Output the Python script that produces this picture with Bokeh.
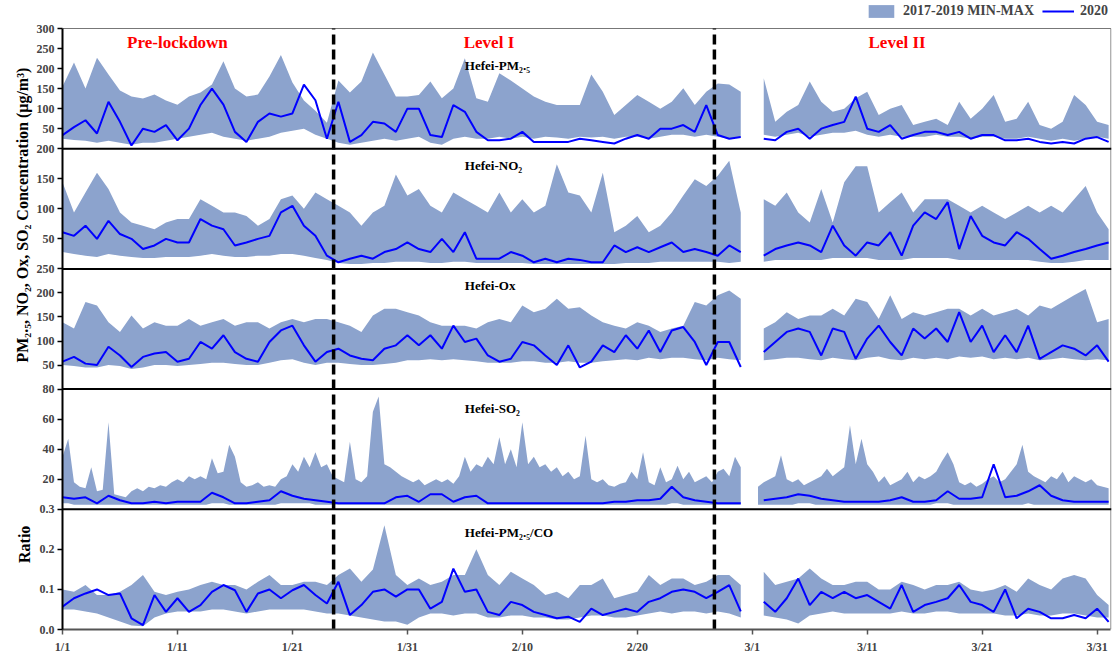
import numpy as np
import pandas as pd
from bokeh.plotting import figure
from bokeh.layouts import row
from bokeh.models import Range1d, FixedTicker, Span, Label, Legend, LegendItem
from bokeh.embed import file_html
from bokeh.resources import INLINE

# ---------------- data ----------------
# daily samples (day 0 = 2020-01-01 00:00); None = missing hours around 29 Feb / 1 Mar
days = np.arange(92)
# half-day samples used for the spiky SO2 envelope
half_days = np.arange(183) / 2

pm25_2020 = [34, 54, 71, 38, 117, 67, 8, 50, 42, 59,
             21, 50, 109, 150, 110, 42, 17, 67, 88, 80,
             88, 160, 121, 25, 117, 17, 34, 67, 63, 42,
             100, 100, 34, 29, 109, 92, 42, 21, 21, 25,
             42, 17, 17, 17, 17, 25, 21, 17, 13, 25,
             34, 25, 50, 50, 59, 42, 109, 34, 25, 29,
             None, 25, 21, 42, 50, 25, 50, 59, 67, 130,
             50, 42, 59, 25, 34, 42, 42, 34, 42, 25,
             34, 34, 21, 21, 25, 17, 13, 17, 13, 25,
             29, 17]
pm25_max = [155, 215, 150, 227, 185, 145, 130, 125, 135, 120,
            110, 130, 140, 160, 218, 150, 130, 135, 180, 234,
            165, 120, 95, 65, 170, 140, 168, 240, 185, 130,
            130, 134, 168, 126, 150, 226, 126, 117, 188, 170,
            150, 130, 117, 109, 109, 109, 185, 142, 84, 109,
            134, 117, 100, 117, 151, 109, 142, 163, 160, 142,
            None, 176, 67, 92, 109, 168, 117, 92, 100, 126,
            142, 84, 100, 109, 59, 67, 75, 59, 117, 75,
            100, 134, 67, 75, 117, 59, 50, 67, 134, 109,
            67, 59]
pm25_min = [25, 22, 20, 15, 20, 15, 10, 15, 15, 20,
            25, 30, 35, 40, 30, 25, 20, 25, 30, 40,
            45, 50, 35, 25, 15, 10, 15, 20, 25, 20,
            25, 30, 15, 10, 25, 30, 25, 25, 30, 25,
            30, 25, 30, 28, 25, 30, 28, 30, 25, 30,
            30, 25, 30, 35, 35, 30, 35, 30, 25, 30,
            None, 35, 30, 35, 40, 30, 35, 40, 40, 45,
            35, 30, 35, 30, 30, 30, 35, 30, 30, 25,
            30, 30, 25, 25, 30, 25, 20, 25, 20, 25,
            30, 25]

no2_2020 = [61, 55, 72, 50, 80, 58, 50, 33, 39, 50,
            44, 44, 83, 72, 66, 39, 44, 50, 55, 94,
            105, 72, 55, 22, 11, 17, 22, 17, 28, 33,
            44, 33, 28, 50, 28, 61, 17, 17, 17, 28,
            22, 11, 17, 11, 17, 15, 11, 11, 39, 28,
            36, 28, 36, 44, 28, 33, 28, 22, 39, 28,
            None, 22, 33, 39, 44, 39, 28, 72, 39, 22,
            44, 39, 61, 22, 72, 94, 83, 111, 33, 88,
            55, 44, 39, 61, 50, 33, 17, 22, 28, 33,
            39, 44]
no2_max = [144, 94, 127, 160, 133, 94, 77, 72, 66, 77,
           83, 83, 116, 105, 94, 94, 88, 72, 83, 116,
           122, 100, 127, 116, 105, 94, 72, 94, 105, 157,
           122, 133, 105, 94, 127, 116, 105, 94, 127, 94,
           116, 94, 105, 174, 127, 122, 94, 160, 61, 72,
           88, 61, 72, 94, 122, 149, 138, 155, 180, 94,
           None, 116, 105, 127, 94, 77, 133, 77, 144, 171,
           171, 94, 111, 127, 94, 116, 116, 116, 105, 94,
           105, 94, 83, 94, 105, 94, 105, 94, 116, 138,
           94, 66]
no2_min = [28, 25, 22, 20, 25, 22, 20, 18, 18, 20,
           20, 20, 22, 25, 22, 20, 20, 22, 22, 25,
           25, 22, 18, 15, 10, 8, 8, 10, 10, 12,
           12, 12, 10, 10, 12, 12, 10, 10, 10, 10,
           10, 8, 8, 8, 8, 8, 8, 8, 8, 10,
           10, 10, 12, 12, 12, 12, 12, 12, 10, 12,
           None, 12, 15, 15, 15, 15, 15, 18, 18, 18,
           18, 15, 15, 15, 18, 18, 18, 18, 15, 15,
           15, 15, 15, 15, 15, 12, 10, 10, 12, 15,
           15, 15]

ox_2020 = [57, 67, 53, 50, 88, 70, 46, 67, 74, 77,
           57, 63, 98, 84, 112, 77, 63, 57, 98, 122,
           132, 91, 57, 77, 84, 70, 63, 60, 84, 91,
           112, 91, 112, 84, 132, 98, 105, 70, 57, 63,
           98, 91, 70, 50, 91, 45, 57, 91, 77, 112,
           84, 122, 77, 122, 129, 98, 50, 98, 98, 46,
           None, 77, 98, 119, 126, 119, 70, 126, 119, 63,
           105, 132, 98, 70, 126, 105, 126, 98, 160, 98,
           132, 77, 112, 77, 132, 63, 77, 91, 84, 70,
           91, 57]
ox_max = [139, 126, 181, 174, 139, 119, 153, 126, 139, 132,
          132, 146, 132, 139, 146, 132, 139, 139, 126, 139,
          146, 139, 146, 146, 139, 132, 119, 153, 167, 167,
          160, 153, 139, 132, 132, 132, 126, 139, 146, 139,
          174, 160, 167, 188, 167, 170, 153, 139, 132, 126,
          139, 132, 119, 126, 132, 181, 174, 195, 205, 188,
          None, 126, 139, 160, 146, 153, 153, 167, 153, 188,
          181, 146, 195, 146, 160, 153, 160, 167, 167, 153,
          167, 153, 160, 167, 153, 174, 167, 181, 195, 208,
          139, 146]
ox_min = [50, 48, 45, 45, 50, 48, 42, 45, 50, 50,
          48, 50, 52, 55, 55, 52, 50, 50, 55, 60,
          62, 55, 50, 55, 55, 52, 50, 50, 52, 55,
          60, 60, 62, 60, 62, 60, 58, 55, 55, 55,
          58, 58, 55, 55, 58, 55, 55, 58, 60, 62,
          60, 65, 62, 65, 65, 62, 60, 65, 62, 60,
          None, 60, 62, 65, 65, 62, 60, 65, 62, 60,
          65, 68, 62, 60, 65, 62, 65, 62, 68, 65,
          68, 62, 65, 62, 65, 60, 62, 65, 62, 60,
          62, 60]

so2_2020 = [8, 7, 8, 4, 9, 6, 4, 4, 5, 4,
            5, 5, 5, 11, 8, 4, 4, 5, 6, 12,
            9, 7, 6, 5, 4, 4, 4, 4, 4, 8,
            9, 5, 10, 10, 5, 8, 9, 4, 4, 4,
            4, 4, 4, 4, 4, 4, 4, 4, 5, 5,
            6, 6, 7, 15, 8, 6, 5, 4, 4, 4,
            None, 6, 7, 8, 10, 9, 7, 6, 5, 5,
            5, 5, 6, 8, 5, 5, 6, 12, 7, 7,
            8, 30, 8, 9, 12, 16, 9, 6, 5, 5,
            5, 5]
# SO2 envelope at half-day resolution
so2_max = [35, 47, 18, 15, 14, 28, 12, 13, 58, 10,
           9, 8, 12, 14, 12, 15, 14, 16, 15, 18,
           20, 18, 22, 20, 22, 20, 34, 24, 25, 43,
           35, 18, 15, 16, 18, 15, 16, 15, 20, 22,
           30, 25, 35, 28, 38, 28, 30, 22, 20, 18,
           45, 20, 18, 22, 65, 75, 30, 28, 25, 22,
           20, 18, 20, 16, 18, 20, 18, 20, 17, 22,
           35, 25, 30, 28, 35, 30, 48, 30, 40, 28,
           58, 30, 35, 28, 30, 25, 28, 22, 25, 20,
           22, 49, 20, 18, 20, 16, 15, 17, 18, 25,
           20, 38, 18, 16, 28, 18, 20, 29, 20, 25,
           18, 20, 22, 18, 25, 27, 22, 35, 28, None,
           None, 15, 18, 20, 22, 36, 20, 18, 20, 16,
           18, 20, 22, 27, 22, 25, 28, 56, 30, 47,
           30, 25, 18, 22, 16, 18, 20, 25, 18, 22,
           20, 22, 25, 32, 38, 30, 18, 16, 18, 15,
           17, 20, 22, 18, 20, 25, 30, 43, 25, 22,
           20, 18, 22, 20, 25, 18, 22, 20, 18, 20,
           16, 15, 14]
so2_min = [4, 4, 3, 3, 3, 3, 3, 3, 3, 3,
           3, 3, 3, 3, 3, 3, 3, 3, 3, 3,
           3, 3, 3, 3, 3, 3, 4, 4, 4, 3,
           3, 3, 3, 3, 3, 3, 3, 3, 4, 4,
           4, 4, 4, 4, 3, 3, 3, 3, 3, 3,
           3, 3, 3, 3, 3, 3, 3, 3, 3, 3,
           3, 3, 3, 3, 3, 3, 3, 3, 3, 3,
           3, 3, 3, 3, 3, 3, 3, 3, 3, 3,
           3, 3, 3, 3, 3, 3, 3, 3, 3, 3,
           3, 3, 3, 3, 3, 3, 3, 3, 3, 3,
           3, 3, 3, 3, 3, 3, 4, 4, 3, 3,
           3, 3, 3, 3, 3, 3, 3, 3, 3, None,
           None, 3, 3, 3, 3, 3, 3, 3, 4, 4,
           4, 3, 3, 3, 3, 3, 3, 3, 3, 3,
           3, 3, 3, 3, 3, 3, 3, 3, 3, 3,
           3, 3, 4, 4, 4, 3, 3, 3, 3, 3,
           3, 3, 3, 3, 3, 3, 3, 3, 4, 3,
           3, 3, 3, 3, 3, 3, 3, 3, 3, 3,
           3, 3, 3]

ratio_2020 = [.057, .078, .09, .1, .086, .09, .028, .011, .086, .044,
              .078, .044, .061, .094, .111, .098, .044, .09, .1, .078,
              .098, .111, .086, .065, .119, .036, .061, .094, .1, .082,
              .1, .1, .052, .069, .152, .094, .1, .044, .036, .069,
              .061, .044, .036, .028, .032, .019, .052, .036, .044, .052,
              .044, .069, .078, .094, .1, .094, .078, .094, .111, .045,
              None, .069, .044, .078, .127, .061, .094, .078, .094, .078,
              .086, .069, .052, .111, .044, .061, .069, .078, .111, .069,
              .061, .044, .1, .028, .052, .044, .028, .028, .036, .028,
              .052, .019]
ratio_max = [.1, .094, .111, .086, .086, .094, .111, .136, .094, .086,
             .094, .1, .111, .119, .111, .111, .1, .119, .136, .111,
             .111, .119, .119, .111, .136, .152, .119, .15, .26, .136,
             .111, .127, .111, .119, .136, .136, .2, .136, .111, .144,
             .127, .111, .086, .094, .078, .111, .111, .127, .078, .086,
             .094, .136, .111, .127, .127, .111, .119, .136, .136, .111,
             None, .144, .111, .119, .127, .152, .127, .111, .111, .119,
             .119, .1, .1, .119, .111, .1, .111, .111, .119, .1,
             .094, .1, .111, .094, .127, .111, .1, .127, .136, .127,
             .086, .061]
ratio_min = [.05, .05, .045, .04, .03, .02, .01, .008, .03, .04,
             .045, .045, .045, .05, .05, .045, .04, .045, .05, .05,
             .05, .05, .045, .04, .04, .035, .03, .025, .02, .02,
             .012, .03, .04, .04, .035, .04, .04, .03, .03, .035,
             .035, .03, .03, .025, .025, .03, .035, .035, .03, .03,
             .035, .04, .045, .04, .045, .045, .04, .045, .04, .03,
             None, .035, .03, .025, .015, .035, .04, .045, .04, .04,
             .04, .04, .04, .045, .04, .04, .045, .045, .04, .04,
             .04, .04, .035, .035, .04, .035, .035, .04, .04, .035,
             .03, .03]

panel_titles = ["Hefei-PM\u2082.\u2085", "Hefei-NO\u2082", "Hefei-Ox", "Hefei-SO\u2082",
                "Hefei-PM\u2082.\u2085/CO"]
panel_ranges = [(0, 300), (0, 200), (0, 250), (0, 80), (0, 0.3)]
panel_ticks = [[50, 100, 150, 200, 250, 300], [50, 100, 150, 200],
               [50, 100, 150, 200, 250], [20, 40, 60, 80], [0.0, 0.1, 0.2, 0.3]]
tick_fmt = ["{:g}", "{:g}", "{:g}", "{:g}", "{:.1f}"]
x_tick_labels = ["1/1", "1/11", "1/21", "1/31", "2/10", "2/20", "3/1", "3/11", "3/21", "3/31"]
phase_names = ["Pre-lockdown", "Level I", "Level II"]
phase_changes = ["2020-01-24 14:00", "2020-02-26 17:00"]
y_titles = ["PM\u2082.\u2085, NO\u2082, Ox, SO\u2082  Concentration  (\u03bcg/m\u00b3)", "Ratio"]

# (band time, band min, band max, 2020 time, 2020 values)
series = [(days, pm25_min, pm25_max, days, pm25_2020),
          (days, no2_min, no2_max, days, no2_2020),
          (days, ox_min, ox_max, days, ox_2020),
          (half_days, so2_min, so2_max, days, so2_2020),
          (days, ratio_min, ratio_max, days, ratio_2020)]

# ---------------- styling ----------------
FONT = "Liberation Serif"
BAND = "#8CA3CD"
LINE = "#0000FF"
t0 = pd.Timestamp("2020-01-01")
to_day = lambda s: (pd.Timestamp(s) - t0) / pd.Timedelta(days=1)


def runs(mask):
    """index ranges [a, b) where mask is True"""
    out, start = [], None
    for i, m in enumerate(mask):
        if m and start is None:
            start = i
        if not m and start is not None:
            out.append((start, i))
            start = None
    if start is not None:
        out.append((start, len(mask)))
    return out


W, H, LW = 1116, 657, 33
TOP, BOT = 28, 28            # legend strip (inside the frame) and x-axis strip
n = len(series)
frame_h = H - BOT
y_end = n * frame_h / (frame_h - TOP)   # stacked units; [n, y_end] is the legend strip
X_END = 91.2

p = figure(width=W - LW, height=H, output_backend="svg", toolbar_location=None,
           x_range=Range1d(0, X_END + 0.05), y_range=Range1d(0, y_end),
           min_border_left=62 - LW, min_border_right=5, min_border_top=0, min_border_bottom=BOT)
p.grid.visible = False
p.outline_line_color = None
p.border_fill_alpha = 0

band_r = None
line_r = None
ytick_pos = []
ytick_lab = {}
for k, ((tb, mn, mx, tl, yr), (lo, hi)) in enumerate(zip(series, panel_ranges)):
    name = f"p{k}"
    span = hi - lo
    base = n - 1 - k          # panel k occupies [base, base+1] of the stacked main range
    p.extra_y_ranges[name] = Range1d(lo - base * span, lo + (y_end - base) * span)
    mn_a = np.array(mn, dtype=float)
    mx_a = np.array(mx, dtype=float)
    yr_a = np.array(yr, dtype=float)
    for a, b in runs(np.isfinite(mx_a) & np.isfinite(mn_a)):
        r = p.varea(x=tb[a:b], y1=mn_a[a:b], y2=mx_a[a:b], y_range_name=name,
                    fill_color=BAND, fill_alpha=1.0)
        if band_r is None:
            band_r = r
    lr = p.line(tl, yr_a, y_range_name=name, line_color=LINE, line_width=2)
    if line_r is None:
        line_r = lr

    for t in panel_ticks[k]:
        u = round(base + (t - lo) / span, 6)
        ytick_pos.append(u)
        ytick_lab[u] = tick_fmt[k].format(t)

    title_frac = [0.69, 0.86, 0.86, 0.84, 0.81][k]
    p.add_layout(Label(x=35, y=lo + span * title_frac, y_range_name=name,
                       text=panel_titles[k], text_font=FONT,
                       text_font_style="bold", text_font_size="13px",
                       text_align="left", text_baseline="middle", text_color="black"))

    if k < n - 1:
        p.add_layout(Span(location=base, dimension="width", line_color="black", line_width=2))

# panel-block borders: top and right (thin grey)
p.segment(x0=[0, X_END], y0=[n, 0], x1=[X_END, X_END], y1=[n, n],
          line_color="#777777", line_width=1)

# y axis
p.yaxis.bounds = (0, n)
p.yaxis.ticker = FixedTicker(ticks=ytick_pos)
p.yaxis.major_label_overrides = ytick_lab
p.yaxis.axis_line_color = "black"
p.yaxis.axis_line_width = 2
p.yaxis.major_tick_in = 0
p.yaxis.major_tick_out = 5
p.yaxis.major_tick_line_width = 1.5
p.yaxis.minor_tick_line_color = None
p.yaxis.major_label_standoff = 3
p.yaxis.major_label_text_font = FONT
p.yaxis.major_label_text_font_style = "bold"
p.yaxis.major_label_text_font_size = "12px"

# phase boundaries (dashed), over the five panels only
pc = [to_day(s) for s in phase_changes]
p.segment(x0=pc, y0=[0] * len(pc), x1=pc, y1=[n] * len(pc), line_color="black",
          line_width=3.5, line_dash="10 5")

# phase labels
phase_x = [10.0, 37.1, 72.6]
for nm, xx in zip(phase_names, phase_x):
    p.add_layout(Label(x=xx, y=265, y_range_name="p0", text=nm, text_font=FONT,
                       text_font_style="bold", text_font_size="17px", text_color="#FF0000",
                       text_align="center", text_baseline="middle"))

# x axis
xt = [to_day("2020-" + lab.replace("/", "-")) for lab in x_tick_labels]
p.xaxis.ticker = FixedTicker(ticks=xt)
p.xaxis.major_label_overrides = {t: lab for t, lab in zip(xt, x_tick_labels)}
p.xaxis.bounds = (0, X_END)
p.xaxis.axis_line_color = "#555555"
p.xaxis.axis_line_width = 2
p.xaxis.major_tick_line_color = "#555555"
p.xaxis.major_tick_line_width = 1.5
p.xaxis.major_tick_in = 0
p.xaxis.major_tick_out = 5
p.xaxis.minor_tick_line_color = None
p.xaxis.major_label_standoff = 5
p.xaxis.major_label_text_font = FONT
p.xaxis.major_label_text_font_style = "bold"
p.xaxis.major_label_text_font_size = "12px"

legend = Legend(items=[LegendItem(label="2017-2019 MIN-MAX", renderers=[band_r]),
                       LegendItem(label="2020", renderers=[line_r])],
                orientation="horizontal", location="top_right",
                margin=3, padding=4, spacing=8, glyph_width=32, glyph_height=16,
                label_height=16, label_standoff=6, border_line_color=None,
                background_fill_alpha=0, label_text_font=FONT,
                label_text_font_style="bold", label_text_font_size="14px")
p.add_layout(legend)

# left strip holding the rotated y-axis titles (pixel-like coordinates)
lab_fig = figure(width=LW, height=H, output_backend="svg", toolbar_location=None,
                 x_range=Range1d(0, LW), y_range=Range1d(0, H),
                 x_axis_location=None, y_axis_location=None,
                 min_border_left=0, min_border_right=0,
                 min_border_top=0, min_border_bottom=0)
lab_fig.grid.visible = False
lab_fig.outline_line_color = None
for txt, (xx, yy) in zip(y_titles, [(22, H - 220), (24, H - 568)]):
    lab_fig.add_layout(Label(x=xx, y=yy, text=txt, angle=np.pi / 2, text_font=FONT,
                             text_font_style="bold", text_font_size="16px",
                             text_align="center", text_baseline="middle", text_color="black"))

layout = row(lab_fig, p)
open("out.html", "w").write(file_html(layout, INLINE))
